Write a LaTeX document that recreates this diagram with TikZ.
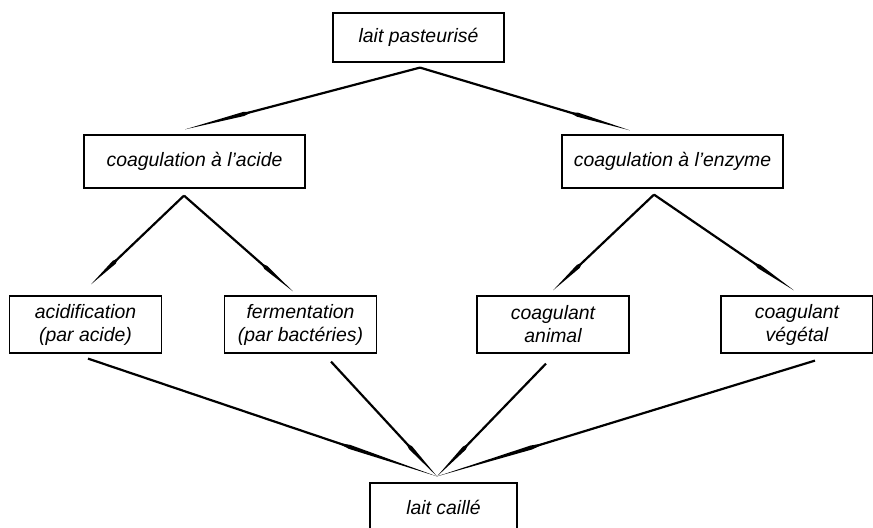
\documentclass[tikz,border=0pt]{standalone}
\usepackage{fontspec}
\setmainfont{Liberation Sans}
\usetikzlibrary{calc,decorations.markings}
\tikzset{
  box/.style={rectangle, draw, line width=0.6pt, align=center, inner sep=0pt,
    font=\itshape\fontsize{9.7}{11.5}\selectfont},
  big/.style={box, minimum width=110.5pt, minimum height=26.5pt},
  small/.style={box, minimum width=76pt, minimum height=28.5pt},
  flow/.style={decorate, decoration={markings, mark=at position 0.75 with {
      \pgfmathsetlengthmacro{\headlen}{\pgfdecoratedpathlength/4}
      \draw[line width=1.1pt] (-3*\headlen,0pt) -- (0pt,0pt);
      \fill (-0.15*\headlen,0pt) -- (0pt,1.05pt) -- (\headlen,0pt) -- (0pt,-1.05pt) -- cycle;
  }}}
}
\begin{document}
\begin{tikzpicture}[x=0.5pt, y=-0.5pt]
    \useasboundingbox (0,0) rectangle (873,528);

    % Boxes
    \node[box, minimum width=85.5pt, minimum height=24.5pt] (past) at (418.5,37.5) {lait pasteurisé};
    \node[big] (acide) at (194.5,161.5) {coagulation à l'acide};
    \node[big] (enzyme) at (672.5,161.5) {coagulation à l'enzyme};
    \node[small] (acidif) at (85.5,324.5) {acidification\\(par acide)};
    \node[small] (ferment) at (300.5,324.5) {fermentation\\(par bactéries)};
    \node[small] (animal) at (553,324.5) {coagulant\\animal};
    \node[small] (vegetal) at (797,324.5) {coagulant\\végétal};
    \node[box, minimum width=73.5pt, minimum height=24.5pt] (caille) at (443.5,507.5) {lait caillé};

    % Arrows
    \draw[flow] ($(past.south)+(1.5,5)$) -- ($(acide.north)+(-9.5,-5)$);
    \draw[flow] ($(past.south)+(1.5,5)$) -- ($(enzyme.north)+(-42.5,-4)$);
    \draw[flow] ($(acide.south)+(-10.5,7)$) -- ($(acidif.north)+(5.5,-11)$);
    \draw[flow] ($(acide.south)+(-10.5,7)$) -- ($(ferment.north)+(-7.5,-4)$);
    \draw[flow] ($(enzyme.south)+(-18.5,6)$) -- ($(animal.north)+(0,-5)$);
    \draw[flow] ($(enzyme.south)+(-18.5,6)$) -- ($(vegetal.north)+(-3,-5)$);
    \draw[flow] ($(acidif.south)+(2.5,5)$) -- ($(caille.north)+(-6.5,-6)$);
    \draw[flow] ($(ferment.south)+(30.5,8)$) -- ($(caille.north)+(-6.5,-6)$);
    \draw[flow] ($(animal.south)+(-7,10)$) -- ($(caille.north)+(-6.5,-6)$);
    \draw[flow] ($(vegetal.south)+(18,7)$) -- ($(caille.north)+(-6.5,-6)$);
\end{tikzpicture}
\end{document}
